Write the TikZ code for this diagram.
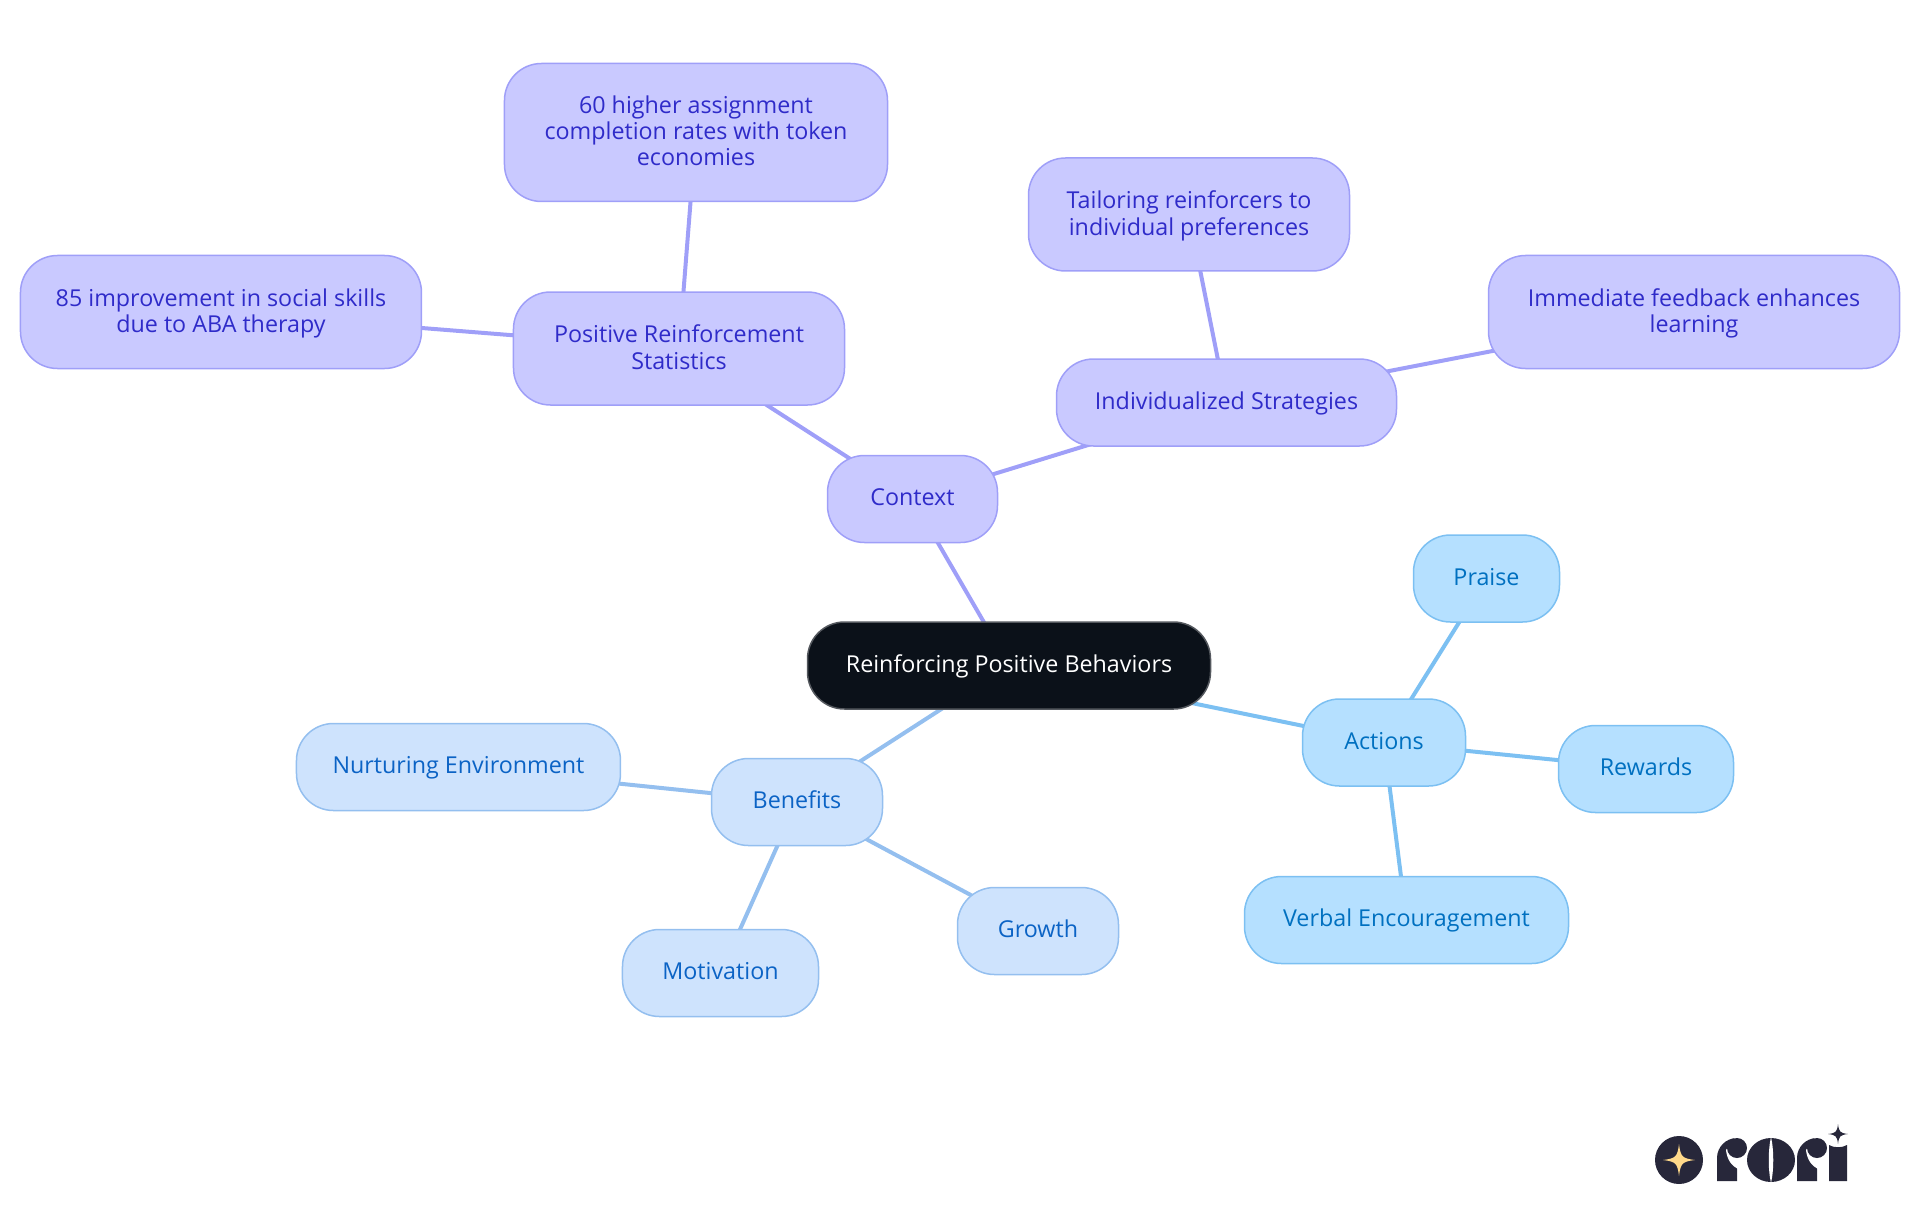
\documentclass[tikz,border=0pt]{standalone}
\usepackage{fontspec}
\setmainfont{Open Sans}
\usepackage{tikz}
\usetikzlibrary{positioning}
\usetikzlibrary{backgrounds}

\definecolor{ctxfill}{HTML}{C9C9FF}
\definecolor{ctxline}{HTML}{9F9FF8}
\definecolor{ctxtext}{HTML}{2F2BC9}
\definecolor{actfill}{HTML}{B5E0FF}
\definecolor{actline}{HTML}{7CC0F2}
\definecolor{acttext}{HTML}{0070C0}
\definecolor{benfill}{HTML}{CEE3FD}
\definecolor{benline}{HTML}{94BFEF}
\definecolor{bentext}{HTML}{0B63C5}
\definecolor{rootfill}{HTML}{0B1119}
\definecolor{logodark}{HTML}{27273A}
\definecolor{logostar}{HTML}{FFD98A}

\tikzset{
    mapnode/.style={rectangle, rounded corners=7.4mm, line width=0.3mm,
        align=center, inner sep=0, minimum height=17.4mm,
        text height=10.6pt, text depth=3pt,
        font=\fontsize{13.25}{15}\selectfont},
    rootnode/.style={mapnode, fill=rootfill, draw=rootfill!70!white, text=white},
    ctxnode/.style={mapnode, fill=ctxfill, draw=ctxline, text=ctxtext},
    actnode/.style={mapnode, fill=actfill, draw=actline, text=acttext},
    bennode/.style={mapnode, fill=benfill, draw=benline, text=bentext},
    twolines/.style={minimum height=22.6mm, text height=26.4pt},
    threelines/.style={minimum height=27.6mm, text height=41pt},
    logostarshape/.pic={
        \fill[pic actions] (-1,0) .. controls (-0.2,-0.1) and (-0.1,-0.2) .. (0,-1)
            .. controls (0.1,-0.2) and (0.2,-0.1) .. (1,0)
            .. controls (0.2,0.1) and (0.1,0.2) .. (0,1)
            .. controls (-0.1,0.2) and (-0.2,0.1) .. (-1,0) -- cycle;
    },
}

\begin{document}
\begin{tikzpicture}[x=0.2mm, y=-0.2mm, on grid]
    \useasboundingbox (0,0) rectangle (1920,1215);

    \node (root)[rootnode, minimum width=80.6mm] at (1009,665.5) {Reinforcing Positive Behaviors};

    \node (context)[ctxnode, minimum width=34mm, above left = 33.3mm and 19.3mm of root] {Context};
    \node (stats)[ctxnode, twolines, minimum width=66.2mm, above left = 30.1mm and 46.7mm of context] {Positive Reinforcement\\Statistics};
    \node (higher)[ctxnode, threelines, minimum width=76.6mm, above right = 43.2mm and 3.4mm of stats] {60 higher assignment\\completion rates with token\\economies};
    \node (social)[ctxnode, twolines, minimum width=80.2mm, above left = 7.3mm and 91.6mm of stats] {85 improvement in social skills\\due to ABA therapy};
    \node (strategies)[ctxnode, minimum width=68mm, above right = 19.3mm and 62.8mm of context] {Individualized Strategies};
    \node (tailoring)[ctxnode, twolines, minimum width=64.2mm, above left = 37.6mm and 7.5mm of strategies] {Tailoring reinforcers to\\individual preferences};
    \node (feedback)[ctxnode, twolines, minimum width=82.2mm, above right = 18.1mm and 93.5mm of strategies] {Immediate feedback enhances\\learning};

    \node (actions)[actnode, minimum width=32.6mm, below right = 15.4mm and 75mm of root] {Actions};
    \node (praise)[actnode, minimum width=29.2mm, above right = 32.8mm and 20.5mm of actions] {Praise};
    \node (rewards)[actnode, minimum width=35mm, below right = 5.3mm and 52.4mm of actions] {Rewards};
    \node (verbal)[actnode, minimum width=64.8mm, below right = 35.5mm and 4.5mm of actions] {Verbal Encouragement};

    \node (benefits)[bennode, minimum width=34.2mm, below left = 27.3mm and 42.4mm of root] {Benefits};
    \node (nurturing)[bennode, minimum width=64.8mm, above left = 7mm and 67.7mm of benefits] {Nurturing Environment};
    \node (motivation)[bennode, minimum width=39.2mm, below left = 34.2mm and 15.3mm of benefits] {Motivation};
    \node (growth)[bennode, minimum width=32.2mm, below right = 25.8mm and 48.2mm of benefits] {Growth};

    \begin{pgfonlayer}{background}
    \begin{scope}[line width=0.8mm, draw=ctxline]
        \draw[-] (root.center) edge (context.center);
        \draw[-] (context.center) edge (stats.center);
        \draw[-] (stats.center) edge (higher.center);
        \draw[-] (stats.center) edge (social.center);
        \draw[-] (context.center) edge (strategies.center);
        \draw[-] (strategies.center) edge (tailoring.center);
        \draw[-] (strategies.center) edge (feedback.center);
    \end{scope}
    \begin{scope}[line width=0.8mm, draw=actline]
        \draw[-] (root.center) edge (actions.center);
        \draw[-] (actions.center) edge (praise.center);
        \draw[-] (actions.center) edge (rewards.center);
        \draw[-] (actions.center) edge (verbal.center);
    \end{scope}
    \begin{scope}[line width=0.8mm, draw=benline]
        \draw[-] (root.center) edge (benefits.center);
        \draw[-] (benefits.center) edge (nurturing.center);
        \draw[-] (benefits.center) edge (motivation.center);
        \draw[-] (benefits.center) edge (growth.center);
    \end{scope}
    \end{pgfonlayer}

    % logo
    \fill[logodark] (1679,1160) circle [radius=24];
    \pic[fill=logostar, scale=16] at (1679,1160) {logostarshape};
    \foreach \px in {1717,1797}{
        \fill[logodark] (\px,1181) -- (\px,1158) arc[start angle=180, end angle=270, radius=20] -- (\px+20,1181) -- cycle;
        \fill[white] (\px+9,1150) .. controls (\px+10,1160) and (\px+15,1166) .. (\px+21,1169) -- (\px+30,1150) -- (\px+20,1135) -- cycle;
        \fill[logodark] (\px+20,1148) circle [radius=10];
    }
    \fill[logodark] (1771,1160) ellipse [x radius=24, y radius=22];
    \fill[white] (1771,1137) .. controls (1768,1150) and (1768,1170) .. (1771,1183) .. controls (1774,1170) and (1774,1150) .. (1771,1137) -- cycle;
    \fill[logodark] (1829,1181) -- (1829,1145) .. controls (1834,1148) and (1842,1148) .. (1847,1145) -- (1847,1181) -- cycle;
    \pic[fill=logodark, scale=10] at (1838,1134) {logostarshape};
\end{tikzpicture}
\end{document}
